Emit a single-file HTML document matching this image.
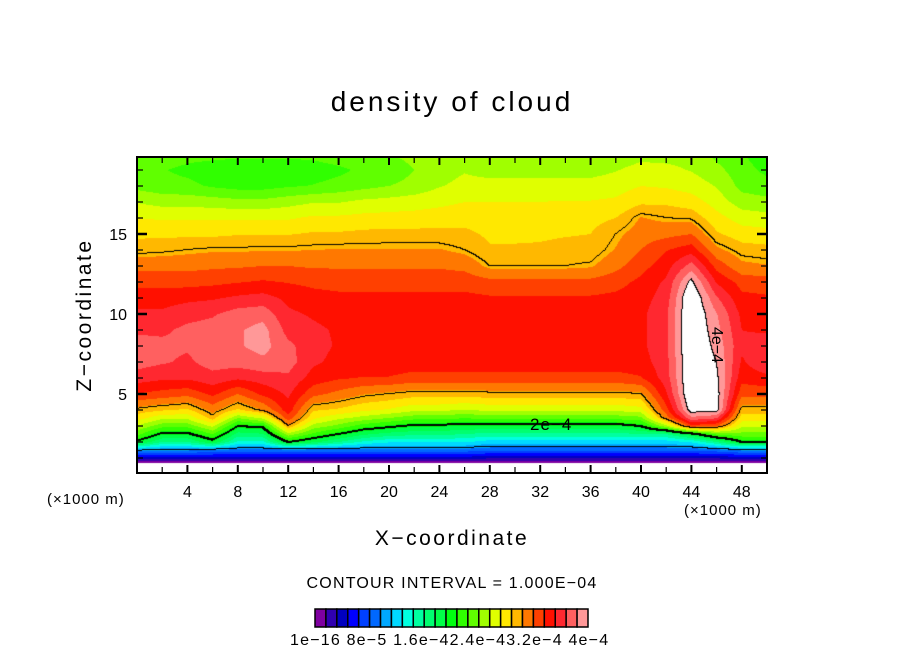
<!DOCTYPE html>
<html><head><meta charset="utf-8">
<style>
html,body{margin:0;padding:0;background:#fff;}
#wrap{position:relative;width:904px;height:654px;overflow:hidden;font-family:"Liberation Sans","DejaVu Sans",sans-serif;color:#000;}
.t{position:absolute;white-space:nowrap;}
</style></head>
<body>
<div id="wrap">
<div class="t" style="left:0;width:904px;text-align:center;top:86px;font-size:28px;letter-spacing:3px;">density of cloud</div>
<canvas id="cv" width="630" height="316" style="position:absolute;left:137px;top:157px;"></canvas>
<svg id="sv" width="904" height="654" style="position:absolute;left:0;top:0;"></svg>
<div class="t" style="left:85px;top:315px;font-size:21px;letter-spacing:2.5px;transform:translate(-50%,-50%) rotate(-90deg);">Z−coordinate</div>
<div class="t" style="left:0;width:904px;text-align:center;top:527px;font-size:21px;letter-spacing:2.5px;">X−coordinate</div>
<div class="t" style="left:47px;top:491px;font-size:15px;letter-spacing:1px;">(×1000 m)</div>
<div class="t" style="left:684px;top:502px;font-size:15px;letter-spacing:1px;">(×1000 m)</div>
<div class="t" style="left:0;width:904px;text-align:center;top:575px;font-size:16px;letter-spacing:1.2px;">CONTOUR INTERVAL = 1.000E−04</div>
<div class="t" style="left:290px;top:632px;font-size:16px;letter-spacing:1.2px;">1e−16 8e−5 1.6e−42.4e−43.2e−4 4e−4</div>
</div>
<script>
// grid data (values in 1e-4 units)
const xs = [0,2,4,6,8,10,12,14,16,18,20,22,24,26,28,30,32,34,36,38,40,42,44,46,48,50];
const zs = [0.7,1,1.5,2,2.5,3,3.5,4,5,6,7,8,9,10,11,12,13,14,15,16,17,18,19,20];
const cols = [
[0,0.4,1.05,1.95,2.3,2.55,2.8,2.97,3.35,3.6,3.75,3.75,3.65,3.55,3.45,3.3,3.15,2.95,2.85,2.72,2.55,2.35,2.3,2.35],
[0,0.4,1.0,1.6,1.95,2.3,2.6,2.9,3.3,3.55,3.7,3.72,3.65,3.55,3.45,3.3,3.15,2.97,2.85,2.7,2.5,2.3,2.25,2.35],
[0,0.4,1.0,1.6,1.95,2.3,2.6,2.85,3.25,3.55,3.65,3.7,3.72,3.62,3.48,3.3,3.15,3.0,2.85,2.7,2.5,2.28,2.2,2.3],
[0,0.4,0.95,1.9,2.25,2.6,2.95,3.1,3.4,3.62,3.75,3.78,3.75,3.66,3.5,3.32,3.17,3.02,2.85,2.7,2.48,2.22,2.15,2.3],
[0,0.4,0.9,1.4,1.7,2.0,2.4,2.85,3.2,3.55,3.75,3.82,3.82,3.75,3.55,3.35,3.18,3.02,2.87,2.7,2.45,2.18,2.1,2.3],
[0,0.4,0.9,1.4,1.75,2.05,2.6,3.05,3.4,3.6,3.8,3.9,3.9,3.78,3.58,3.38,3.2,3.03,2.87,2.7,2.45,2.18,2.1,2.3],
[0,0.4,0.9,2.0,2.5,3.0,3.3,3.45,3.55,3.65,3.75,3.72,3.62,3.55,3.48,3.35,3.2,3.03,2.87,2.7,2.5,2.22,2.1,2.3],
[0,0.4,0.9,1.8,2.2,2.5,2.75,2.9,3.25,3.45,3.55,3.58,3.55,3.5,3.42,3.32,3.18,3.04,2.9,2.75,2.55,2.25,2.15,2.3],
[0,0.4,0.9,1.6,2.0,2.35,2.6,2.85,3.15,3.38,3.47,3.5,3.5,3.47,3.4,3.3,3.18,3.05,2.9,2.75,2.55,2.3,2.2,2.35],
[0,0.4,0.9,1.4,1.8,2.15,2.5,2.75,3.05,3.35,3.46,3.48,3.48,3.45,3.4,3.3,3.18,3.05,2.92,2.77,2.6,2.35,2.28,2.4],
[0,0.4,0.9,1.3,1.7,2.05,2.4,2.7,3.0,3.35,3.46,3.48,3.48,3.45,3.4,3.3,3.18,3.05,2.93,2.78,2.62,2.4,2.3,2.4],
[0,0.4,0.9,1.3,1.65,1.95,2.3,2.6,2.95,3.3,3.45,3.48,3.48,3.45,3.4,3.3,3.18,3.05,2.93,2.78,2.65,2.45,2.4,2.45],
[0,0.4,0.9,1.3,1.65,1.95,2.3,2.6,2.95,3.3,3.45,3.48,3.48,3.45,3.4,3.3,3.18,3.05,2.93,2.8,2.68,2.55,2.5,2.5],
[0,0.4,0.9,1.3,1.6,1.9,2.25,2.55,2.95,3.3,3.45,3.48,3.48,3.45,3.4,3.3,3.15,3.0,2.92,2.82,2.72,2.6,2.55,2.5],
[0,0.35,0.85,1.2,1.55,1.9,2.3,2.6,2.97,3.3,3.45,3.48,3.48,3.45,3.38,3.25,3.0,2.9,2.85,2.8,2.72,2.62,2.5,2.45],
[0,0.35,0.85,1.2,1.55,1.9,2.3,2.6,2.97,3.3,3.45,3.48,3.48,3.45,3.38,3.25,3.0,2.9,2.85,2.8,2.72,2.62,2.5,2.45],
[0,0.35,0.85,1.2,1.55,1.9,2.3,2.6,2.97,3.3,3.45,3.48,3.48,3.45,3.38,3.25,3.0,2.9,2.86,2.82,2.72,2.62,2.5,2.45],
[0,0.35,0.85,1.2,1.55,1.9,2.3,2.6,2.97,3.3,3.45,3.48,3.48,3.45,3.38,3.25,3.0,2.92,2.87,2.83,2.73,2.62,2.5,2.45],
[0,0.35,0.85,1.2,1.55,1.9,2.3,2.6,2.97,3.3,3.45,3.48,3.48,3.45,3.38,3.25,3.02,2.93,2.88,2.83,2.73,2.62,2.5,2.45],
[0,0.35,0.85,1.2,1.55,1.9,2.3,2.6,2.97,3.3,3.45,3.48,3.48,3.45,3.4,3.3,3.15,3.05,3.0,2.88,2.75,2.65,2.55,2.45],
[0,0.35,0.85,1.2,1.6,2.0,2.35,2.65,3.0,3.35,3.45,3.48,3.48,3.48,3.45,3.4,3.3,3.2,3.12,3.05,2.85,2.72,2.62,2.5],
[0,0.35,0.85,1.2,1.6,2.5,3.1,3.3,3.5,3.6,3.62,3.65,3.65,3.65,3.6,3.55,3.45,3.35,3.15,3.0,2.85,2.7,2.6,2.5],
[0,0.35,0.85,1.3,1.9,3.3,3.8,4.1,4.2,4.2,4.2,4.2,4.2,4.2,4.2,4.05,3.75,3.45,3.2,2.98,2.8,2.65,2.55,2.5],
[0,0.35,0.9,1.6,2.3,3.2,3.7,4.1,4.1,4.05,4.0,3.95,3.9,3.85,3.7,3.5,3.3,3.08,2.9,2.78,2.65,2.55,2.45,2.35],
[0,0.4,1.0,2.0,2.35,2.6,2.8,2.95,3.25,3.42,3.5,3.55,3.52,3.48,3.4,3.3,3.08,2.95,2.8,2.65,2.48,2.35,2.3,2.25],
[0,0.4,1.0,2.0,2.35,2.6,2.8,2.95,3.25,3.48,3.65,3.6,3.5,3.45,3.38,3.28,3.05,2.93,2.78,2.62,2.45,2.3,2.2,2.15]
];
const colors = ['#7f00a0','#3000b0','#0000c0','#0000ff','#0040ff','#0068ff','#00a8ff','#00d8ff','#00ffe0','#00ffa0','#00ff70','#00ff48','#00ff10','#30ff00','#60ff00','#a0ff00','#e0ff00','#ffe800','#ffb800','#ff7800','#ff4000','#ff1000','#ff2830','#ff6060','#ff9898'];
const xTicks = [4,8,12,16,20,24,28,32,36,40,44,48];
const yTicks = [5,10,15];

const X0=137, X1=767, Y0=157, Y1=473;
const XMIN=0, XMAX=50, ZBASE=474, ZPX=16;
function sx(x){return X0+(x-XMIN)/(XMAX-XMIN)*(X1-X0);}
function sy(z){return ZBASE-z*ZPX;}

function field(x,z){
  let i=Math.floor(x/(xs[1]-xs[0])); i=Math.max(0,Math.min(xs.length-2,i));
  let tx=(x-xs[i])/(xs[i+1]-xs[i]); tx=Math.max(0,Math.min(1,tx));
  if(z<zs[0]) return 0;
  let j=0; while(j<zs.length-2 && z>zs[j+1]) j++;
  let tz=(z-zs[j])/(zs[j+1]-zs[j]); tz=Math.max(0,Math.min(1,tz));
  const a=cols[i][j],b=cols[i+1][j],c=cols[i][j+1],d=cols[i+1][j+1];
  return (a*(1-tx)+b*tx)*(1-tz)+(c*(1-tx)+d*tx)*tz;
}
function hex(h){return [parseInt(h.substr(1,2),16),parseInt(h.substr(3,2),16),parseInt(h.substr(5,2),16)];}
const rgb=colors.map(hex);
const step=4/colors.length;
(function draw(){
  const cv=document.getElementById('cv'),ctx=cv.getContext('2d');
  const W=cv.width,H=cv.height,img=ctx.createImageData(W,H);
  const V=new Float32Array(W*H);
  for(let py=0;py<H;py++)for(let px=0;px<W;px++){
    const x=XMIN+(px+0.5)/(X1-X0)*(XMAX-XMIN);
    const z=(ZBASE-(Y0+py+0.5))/ZPX;
    V[py*W+px]=field(x,z);
  }
  for(let k=0;k<W*H;k++){
    const v=V[k];let c=[255,255,255];
    if(v>0.02&&v<4){c=rgb[Math.min(colors.length-1,Math.floor(v/step))];}
    img.data[k*4]=c[0];img.data[k*4+1]=c[1];img.data[k*4+2]=c[2];img.data[k*4+3]=255;
  }
  function blk(px,py){if(px<0||py<0||px>=W||py>=H)return;const k=(py*W+px)*4;img.data[k]=0;img.data[k+1]=0;img.data[k+2]=0;}
  for(let py=0;py<H-1;py++)for(let px=0;px<W-1;px++){
    const a=Math.floor(V[py*W+px]),b=Math.floor(V[py*W+px+1]),c=Math.floor(V[(py+1)*W+px]);
    if(a!==b||a!==c){
      const lv=Math.max(a,b,c);
      if(lv>=1&&lv<=4){blk(px,py);if(lv===2){blk(px+1,py);blk(px,py+1);}}
    }
  }
  ctx.putImageData(img,0,0);
})();

const NS='http://www.w3.org/2000/svg';
const sv=document.getElementById('sv');
function mk(tag,attrs,parent){const e=document.createElementNS(NS,tag);for(const k in attrs)e.setAttribute(k,attrs[k]);(parent||sv).appendChild(e);return e;}
const t1=mk('text',{x:530,y:430,'font-size':17,'letter-spacing':1,'font-family':'Liberation Sans, sans-serif'});


t1.textContent='2e−4';
const t2=mk('text',{x:712,y:345,'font-size':16,'font-family':'Liberation Sans, sans-serif',transform:'rotate(90 712 345)','text-anchor':'middle'});


t2.textContent='4e−4';
const fr=mk('rect',{x:X0,y:Y0,width:X1-X0,height:Y1-Y0,fill:'none',stroke:'#000','stroke-width':2});


for(let x=2;x<50;x+=2){
  const maj=x%4===0,L=maj?8:6,w=maj?2:1.2;
  const a=mk('line',{x1:sx(x),x2:sx(x),y1:Y1,y2:Y1-L,stroke:'#000','stroke-width':w});
  
  
  const b=mk('line',{x1:sx(x),x2:sx(x),y1:Y0,y2:Y0+L,stroke:'#000','stroke-width':w});
  
  
}
xTicks.forEach(v=>{
  const t=mk('text',{x:sx(v),y:Y1+24,'font-size':16,'text-anchor':'middle','font-family':'Liberation Sans, sans-serif'});
  
  
  t.textContent=v;
});
for(let z=1;z<20;z++){
  const y=sy(z);if(y<=Y0+1)continue;
  const maj=z%5===0,L=maj?10:6,w=maj?2.5:1.2;
  const a=mk('line',{x1:X0,x2:X0+L,y1:y,y2:y,stroke:'#000','stroke-width':w});
  
  
  const b=mk('line',{x1:X1,x2:X1-L,y1:y,y2:y,stroke:'#000','stroke-width':w});
  
  
}
yTicks.forEach(v=>{
  const t=mk('text',{x:X0-10,y:sy(v)+6,'font-size':16,'text-anchor':'end','font-family':'Liberation Sans, sans-serif'});
  
  
  t.textContent=v;
});
const cbX=315,cbY=609,cbW=273,cbH=18,bw=cbW/colors.length;
colors.forEach((c,i)=>{
  const r=mk('rect',{x:cbX+i*bw,y:cbY,width:bw,height:cbH,fill:c,stroke:'#000','stroke-width':1.5});
  
  
});
</script>
</body></html>
